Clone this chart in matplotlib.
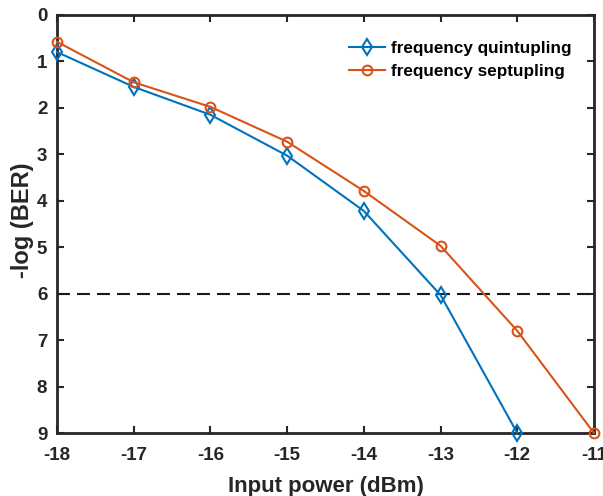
import matplotlib
matplotlib.use("Agg")
import matplotlib.pyplot as plt

x = [-18, -17, -16, -15, -14, -13, -12, -11]
quint = [0.8, 1.55, 2.15, 3.03, 4.22, 6.03, 9.0]
sept = [0.58, 1.45, 1.98, 2.73, 3.79, 4.97, 6.8, 9.0]
threshold = 6
xticks = [-18, -17, -16, -15, -14, -13, -12, -11]
yticks = list(range(0, 10))

plt.rcParams['font.family'] = ['Liberation Sans', 'DejaVu Sans']
plt.rcParams['font.weight'] = 'bold'
plt.rcParams['axes.unicode_minus'] = False

fig = plt.figure(figsize=(6.03, 4.96), dpi=100)
ax = fig.add_axes([0.0945, 0.127, 0.8905, 0.843])

ax.plot(x[:len(quint)], quint, color='#0072BD', lw=1.5, marker='d', ms=8,
        mfc='none', mec='#0072BD', mew=1.5, label='frequency quintupling', clip_on=False, zorder=3)
ax.plot(x, sept, color='#D95319', lw=1.5, marker='o', ms=7,
        mfc='none', mec='#D95319', mew=1.5, label='frequency septupling', clip_on=False, zorder=3)
ax.plot([x[0], x[-1]], [threshold, threshold], color='#1a1a1a', lw=1.5, ls=(0, (6.2, 3.4)), zorder=2)

ax.set_xlim(-18, -11)
ax.set_ylim(9, 0)
ax.set_xticks(xticks)
ax.set_yticks(yticks)
ax.tick_params(direction='in', top=True, right=True, length=5, width=1.5,
               labelsize=13.5, color='#262626', labelcolor='#262626')
ax.tick_params(axis='x', pad=10)
ax.tick_params(axis='y', pad=7)
for lbl in ax.get_xticklabels() + ax.get_yticklabels():
    lbl.set_fontweight('bold')
for s in ax.spines.values():
    s.set_linewidth(2)
    s.set_color('#262626')

ax.set_xlabel('Input power (dBm)', fontsize=16, fontweight='bold', color='#262626', labelpad=9)
ax.set_ylabel('-log (BER)', fontsize=17, fontweight='bold', color='#262626')
ax.yaxis.set_label_coords(-0.042, 0.51)

leg = ax.legend(loc='upper right', frameon=False, fontsize=12.3, handlelength=2.15,
                handletextpad=0.3, borderaxespad=0.5, labelspacing=0.5,
                bbox_to_anchor=(0.986, 0.975))
for t in leg.get_texts():
    t.set_fontweight('bold')

fig.savefig('out.png', dpi=100)
